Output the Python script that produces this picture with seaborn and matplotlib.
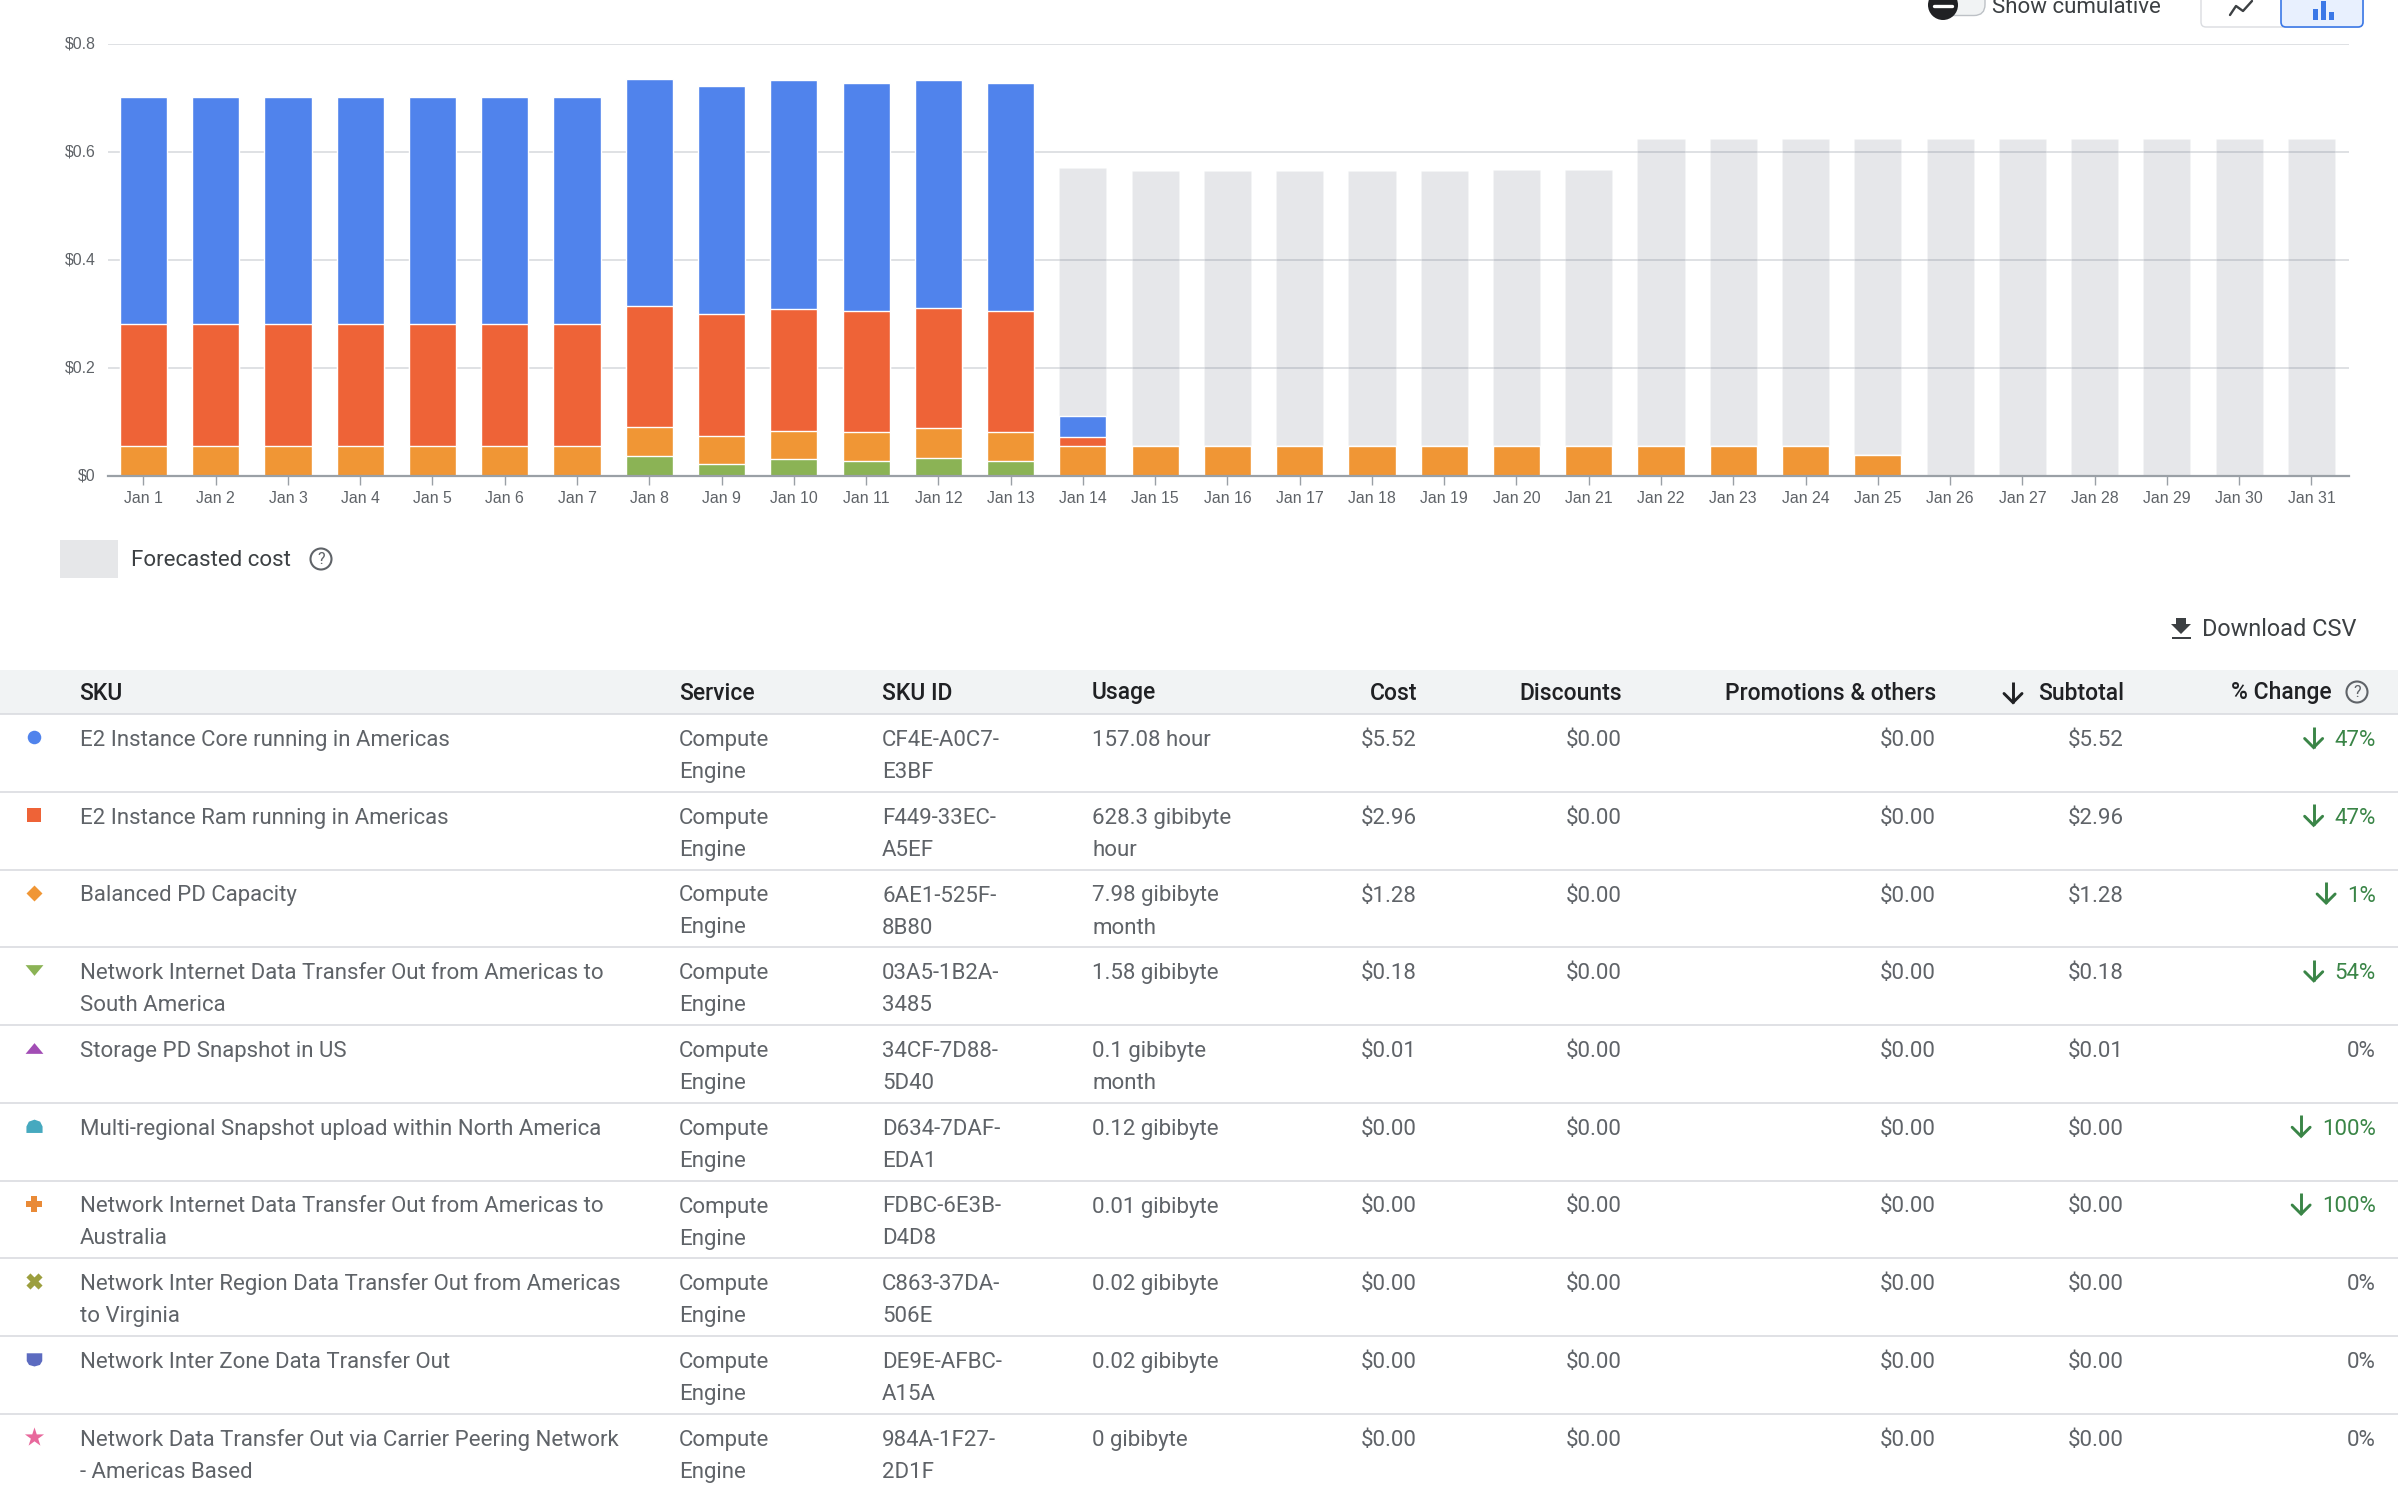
import numpy as np
import pandas as pd
import matplotlib
matplotlib.use("Agg")
import matplotlib.pyplot as plt
from matplotlib.path import Path
from matplotlib.patches import Rectangle, Circle, FancyBboxPatch, Polygon
from matplotlib.transforms import ScaledTranslation
import seaborn as sns

# ---------- data ----------
days = [f"Jan {d}" for d in range(1, 32)]
green = [0]*7 + [0.0366, 0.022, 0.031, 0.028, 0.034, 0.028] + [0]*18
orange = [0.055]*7 + [0.0534, 0.0527, 0.053, 0.054, 0.054, 0.054] + [0.055]*11 + [0.0396] + [0]*6
red = [0.2256]*7 + [0.2257, 0.2253, 0.226, 0.224, 0.224, 0.224, 0.0175] + [0]*17
blue = [0.4204]*7 + [0.4203, 0.4216, 0.423, 0.4215, 0.421, 0.4215, 0.038] + [0]*17
forecast = [0]*13 + [0.570, 0.564, 0.564, 0.564, 0.564, 0.564, 0.567, 0.567] + [0.6235]*10
y_ticks = [0, 0.2, 0.4, 0.6, 0.8]
y_labels = ["$0", "$0.2", "$0.4", "$0.6", "$0.8"]

headers = ["SKU", "Service", "SKU ID", "Usage", "Cost", "Discounts", "Promotions & others", "Subtotal", "% Change"]
sku = ["E2 Instance Core running in Americas", "E2 Instance Ram running in Americas", "Balanced PD Capacity",
       "Network Internet Data Transfer Out from Americas to\nSouth America", "Storage PD Snapshot in US",
       "Multi-regional Snapshot upload within North America",
       "Network Internet Data Transfer Out from Americas to\nAustralia",
       "Network Inter Region Data Transfer Out from Americas\nto Virginia", "Network Inter Zone Data Transfer Out",
       "Network Data Transfer Out via Carrier Peering Network\n- Americas Based"]
service = ["Compute\nEngine"]*10
sku_id = ["CF4E-A0C7-\nE3BF", "F449-33EC-\nA5EF", "6AE1-525F-\n8B80", "03A5-1B2A-\n3485", "34CF-7D88-\n5D40",
          "D634-7DAF-\nEDA1", "FDBC-6E3B-\nD4D8", "C863-37DA-\n506E", "DE9E-AFBC-\nA15A", "984A-1F27-\n2D1F"]
usage = ["157.08 hour", "628.3 gibibyte\nhour", "7.98 gibibyte\nmonth", "1.58 gibibyte", "0.1 gibibyte\nmonth",
         "0.12 gibibyte", "0.01 gibibyte", "0.02 gibibyte", "0.02 gibibyte", "0 gibibyte"]
cost = ["$5.52", "$2.96", "$1.28", "$0.18", "$0.01", "$0.00", "$0.00", "$0.00", "$0.00", "$0.00"]
discounts = ["$0.00"]*10
promotions = ["$0.00"]*10
subtotal = list(cost)
change = ["47%", "47%", "1%", "54%", "0%", "100%", "100%", "0%", "0%", "0%"]
change_down = [True, True, True, True, False, True, True, False, False, False]

# ---------- style ----------
C_BLUE, C_RED, C_ORANGE, C_GREEN = "#5083EC", "#EE6337", "#F09635", "#8BB355"
TXT, HEAD, DARK = "#5F6368", "#202124", "#3C4043"
LINE = "#DADCE0"
sns.set_theme(style="white")
plt.rcParams["font.family"] = ["Roboto", "DejaVu Sans"]
W, H = 2398, 1490
fig = plt.figure(figsize=(W/100, H/100), dpi=100)

# ---------- chart ----------
ax = fig.add_axes([108/W, 1-476/H, (2349-108)/W, (476-44)/H])
df = pd.DataFrame({"day": days, "green": green, "orange": orange, "red": red, "blue": blue, "forecast": forecast})
df["t_green"] = df["green"]
df["t_orange"] = df["t_green"] + df["orange"]
df["t_red"] = df["t_orange"] + df["red"]
df["t_blue"] = df["t_red"] + df["blue"]
BAR_W = 0.652
sns.barplot(data=df, x="day", y="forecast", order=days, color="#4E5A6E", alpha=0.14, saturation=1, width=BAR_W, ax=ax)
for col, c in [("t_blue", C_BLUE), ("t_red", C_RED), ("t_orange", C_ORANGE), ("t_green", C_GREEN)]:
    sns.barplot(data=df, x="day", y=col, order=days, color=c, saturation=1, width=BAR_W, ax=ax)
ax.set_xlim(-0.49, 30.52)
ax.set_ylim(0, 0.8)
ax.set_xlabel(""); ax.set_ylabel("")
ax.set_yticks(y_ticks, y_labels)
ax.set_axisbelow(True)
ax.grid(axis="y", color="#DFE1E4", lw=1.4)
ax.grid(axis="x", visible=False)
for s in ["top", "right", "left"]:
    ax.spines[s].set_visible(False)
ax.spines["bottom"].set_color("#9AA0A6")
ax.spines["bottom"].set_linewidth(1.6)
ax.tick_params(axis="x", length=6.5, width=1.0, color="#9AA0A6", pad=4, labelsize=11.4, labelcolor=TXT, bottom=True)
ax.tick_params(axis="y", length=0, pad=9, labelsize=11.4, labelcolor=TXT)
for t in ax.get_xticklabels() + ax.get_yticklabels():
    t.set_fontfamily("Liberation Sans")
for t in ax.get_yticklabels():
    t.set_transform(t.get_transform() + ScaledTranslation(0, 1.5/100, fig.dpi_scale_trans))

# ---------- page furniture in pixel coordinates ----------
ui = fig.add_axes([0, 0, 1, 1], facecolor="none")
ui.set_xlim(0, W); ui.set_ylim(H, 0); ui.axis("off")
FS = 16.05

def help_icon(x, y, color=TXT):
    ui.add_patch(Circle((x, y), 10.5, fill=False, ec=color, lw=1.5))
    ui.text(x, y+0.5, "?", ha="center", va="center", fontsize=11.5, color=color)

def down_arrow(x, y, color, h=21, w=18, lw=2.1):
    ui.plot([x, x], [y-h/2, y+h/2], color=color, lw=lw, solid_capstyle="butt")
    ui.plot([x-w/2, x, x+w/2], [y+h/2-w/2, y+h/2, y+h/2-w/2], color=color, lw=lw, solid_joinstyle="miter")

# forecast legend
ui.add_patch(Rectangle((60, 540), 58, 37.5, fc="#E6E7E9", ec="none"))
ui.text(131, 566.5, "Forecasted cost", fontsize=FS, color=DARK, va="baseline")
help_icon(321, 559)

# toggle
ui.add_patch(FancyBboxPatch((1942, -12), 43, 27.5, boxstyle="round,pad=0,rounding_size=11", fc="#F1F3F4", ec="#BDC1C6", lw=1))
ui.add_patch(Circle((1943, 5), 15, fc=HEAD, ec="none", zorder=3))
ui.plot([1934, 1952], [6, 6], color="white", lw=2.4, zorder=4)
ui.text(1992, 13, "Show cumulative", fontsize=FS, color=DARK, va="baseline")

# chart type buttons
ui.add_patch(FancyBboxPatch((2201, -20), 162, 47, boxstyle="round,pad=0,rounding_size=5", fc="white", ec=LINE, lw=1))
ui.add_patch(FancyBboxPatch((2281, -20), 82, 47, boxstyle="round,pad=0,rounding_size=5", fc="#E8F0FE", ec="#3B78E7", lw=1.2))
ui.plot([2230, 2236, 2243, 2252], [15, 6, 11, 1], color=DARK, lw=1.7)
for bx, bt in [(2315, 9), (2323, 1), (2331, 12)]:
    ui.add_patch(Rectangle((bx-2.5, bt), 5, 20-bt, fc="#3B78E7", ec="none"))

# download
ui.add_patch(Polygon([(2176, 618), (2186, 618), (2186, 624), (2191, 624), (2181, 634), (2171, 624), (2176, 624)], fc=DARK, ec="none"))
ui.add_patch(Rectangle((2172, 637), 19, 2.4, fc=DARK, ec="none"))
ui.text(2357, 635.5, "Download CSV", fontsize=FS+0.9, color=DARK, va="baseline", ha="right")

# table header
ui.add_patch(Rectangle((0, 670), W, 44, fc="#F1F3F4", ec="none"))
COLS_L = {"SKU": 79.5, "Service": 679, "SKU ID": 882, "Usage": 1092}
COLS_R = {"Cost": 1417, "Discounts": 1622, "Promotions & others": 1936, "Subtotal": 2124, "% Change": 2332}
for h in headers:
    if h in COLS_L:
        ui.text(COLS_L[h], 699.5, h, fontsize=FS+0.4, color=HEAD, va="baseline", fontweight="medium")
    else:
        ui.text(COLS_R[h], 699.5, h, fontsize=FS+0.4, color=HEAD, va="baseline", ha="right", fontweight="medium")
down_arrow(2013, 692, HEAD)
help_icon(2357, 692)

# table rows
ROW0, ROW_H = 714, 77.75
ui.plot([0, W], [714, 714], color=LINE, lw=1.2)
path_dome = Path(np.array([(-1, -0.8), (1, -0.8), (1, 0), (0.7, 0.6), (0, 0.85), (-0.7, 0.6), (-1, 0), (-1, -0.8)]), closed=True)
path_shield = Path(np.array([(-1, 0.8), (1, 0.8), (1, -0.2), (0.7, -0.7), (0, -0.9), (-0.7, -0.7), (-1, -0.2), (-1, 0.8)]), closed=True)
path_down = Path(np.array([(-1, 0.6), (1, 0.6), (0, -0.6), (-1, 0.6)]), closed=True)
path_up = Path(np.array([(-1, -0.6), (1, -0.6), (0, 0.6), (-1, -0.6)]), closed=True)
markers = [("o", 95, "#5083EC"), ("s", 88, "#EE6337"), ("D", 66, "#F09635"), (path_down, 165, "#8BB355"),
           (path_up, 165, "#A24DB5"), (path_dome, 135, "#46A9BF"), ("P", 135, "#E98A37"), ("X", 135, "#9C9F3E"),
           (path_shield, 125, "#5C6BC0"), ("*", 210, "#E8689C")]
renderer = fig.canvas.get_renderer()
for i in range(10):
    top = ROW0 + i*ROW_H
    base = top + 32
    m, s, c = markers[i]
    ui.scatter([34], [top+23], marker=m, s=s, color=c, linewidths=0)
    for x, val in [(COLS_L["SKU"], sku[i]), (COLS_L["Service"], service[i]), (COLS_L["SKU ID"], sku_id[i]), (COLS_L["Usage"], usage[i])]:
        for j, part in enumerate(val.split("\n")):
            ui.text(x, base + j*32, part, fontsize=FS, color=TXT, va="baseline")
    for col, val in [("Cost", cost[i]), ("Discounts", discounts[i]), ("Promotions & others", promotions[i]), ("Subtotal", subtotal[i])]:
        ui.text(COLS_R[col], base, val, fontsize=FS, color=TXT, va="baseline", ha="right")
    tcol = "#3A8547" if change_down[i] else TXT
    t = ui.text(2376, base, change[i], fontsize=FS, color=tcol, va="baseline", ha="right")
    if change_down[i]:
        ext = t.get_window_extent(renderer)
        down_arrow(ext.x0 - 21, base - 9, "#3A8547")
    if i < 9:
        ui.plot([0, W], [top+ROW_H, top+ROW_H], color=LINE, lw=1.2)

fig.savefig("out.png", dpi=100, facecolor="white")
